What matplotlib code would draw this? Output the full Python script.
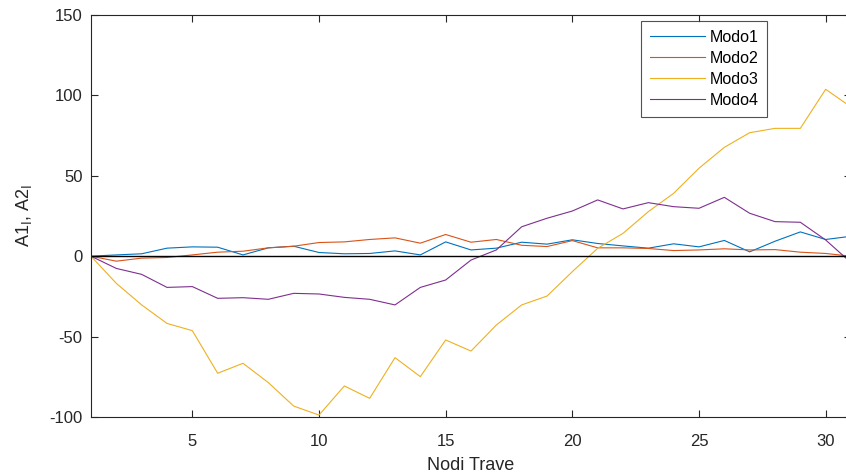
#! /usr/bin/env python3

"""
Modal amplitudes along the beam nodes (Modo1..Modo4).
"""
import matplotlib
matplotlib.use('Agg')
import matplotlib.pyplot as plt

nodes = list(range(1, 32))

modo1 = [0, 0.8, 1.5, 5.0, 5.8, 5.6, 0.8, 5.2, 6.2, 2.3, 1.5, 1.7, 3.3, 0.8, 8.9,
         3.9, 5.0, 8.7, 7.5, 10.2, 7.9, 6.4, 5.0, 7.7, 5.8, 9.8, 2.7, 9.3, 15.1,
         10.4, 12.4]
modo2 = [0, -3.1, -1.2, -0.8, 0.8, 2.5, 3.1, 5.2, 6.2, 8.5, 8.9, 10.4, 11.4, 8.1,
         13.5, 8.7, 10.4, 6.8, 6.0, 9.7, 5.2, 5.2, 4.8, 3.5, 3.9, 4.6, 3.9, 4.1,
         2.5, 1.7, 0.0]
modo3 = [0, -16.9, -30.3, -41.8, -46.3, -72.8, -66.6, -78.6, -93.2, -98.8, -80.7,
         -88.4, -63.1, -74.9, -52.1, -59.0, -42.8, -30.3, -24.8, -9.6, 4.9, 14.2,
         27.7, 39.1, 54.7, 67.7, 76.8, 79.5, 79.5, 103.8, 92.8]
modo4 = [0, -7.6, -11.3, -19.4, -18.9, -26.2, -25.8, -26.8, -23.1, -23.5, -25.6,
         -26.8, -30.3, -19.4, -14.8, -2.4, 3.9, 18.3, 23.6, 28.1, 35.0, 29.4,
         33.3, 30.8, 29.8, 36.6, 26.7, 21.5, 21.1, 10.1, -4.0]

labels = ['Modo1', 'Modo2', 'Modo3', 'Modo4']
colors = ['#0072BD', '#D95319', '#EDB120', '#7E2F8E']

x_ticks = [5, 10, 15, 20, 25, 30]
y_ticks = [-100, -50, 0, 50, 100, 150]


def plot_it():
    plt.rcParams['font.family'] = ['Liberation Sans', 'DejaVu Sans']
    plt.rcParams['axes.unicode_minus'] = False
    axis_col = '#262626'
    fig = plt.figure(figsize=(8.46, 4.76), dpi=100)
    # axes runs slightly past the right edge, like the cropped original
    ax = fig.add_axes([91 / 846, 59 / 476, 760 / 846, 402 / 476])

    for data, lab, col in zip([modo1, modo2, modo3, modo4], labels, colors):
        ax.plot(nodes, data, color=col, lw=0.8, label=lab)
    ax.axhline(0, color='black', lw=1.0)

    ax.set_xlim(1, 31)
    ax.set_ylim(-100, 150)
    ax.set_xticks(x_ticks)
    ax.set_yticks(y_ticks)
    ax.tick_params(direction='in', length=5, width=0.8, colors=axis_col,
                   labelsize=12, top=True, right=True)
    ax.tick_params(axis='x', pad=12)
    ax.tick_params(axis='y', pad=6)
    for sp in ax.spines.values():
        sp.set_color(axis_col)
        sp.set_linewidth(0.8)

    ax.set_xlabel('Nodi Trave', fontsize=13, color=axis_col, labelpad=6)
    ax.set_ylabel(r'A1$_{\mathrm{l}}$, A2$_{\mathrm{l}}$', fontsize=13,
                  color=axis_col, labelpad=11)

    leg = ax.legend(loc='upper left', bbox_to_anchor=(550 / 760, 1 - 6 / 402),
                    fontsize=11.5, frameon=True, fancybox=False,
                    handlelength=3.45, handletextpad=0.3, borderpad=0.55,
                    labelspacing=0.38, borderaxespad=0)
    leg.get_frame().set_edgecolor(axis_col)
    leg.get_frame().set_linewidth(0.8)

    fig.savefig('out.png', dpi=100)


if __name__ == '__main__':
    plot_it()
